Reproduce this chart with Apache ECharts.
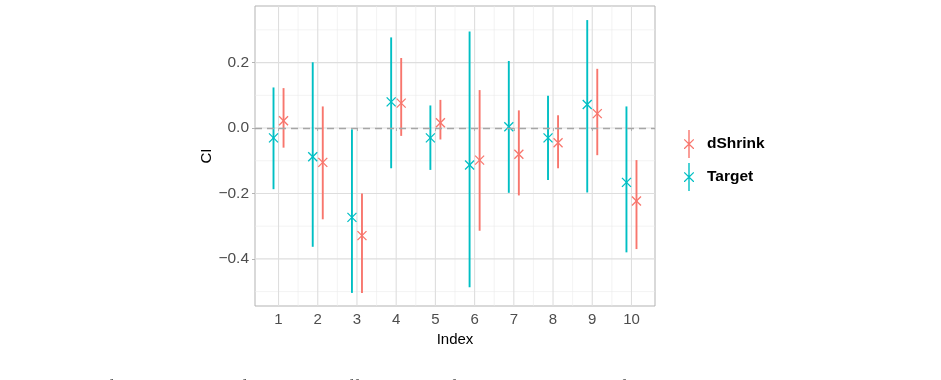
<!DOCTYPE html>
<html>
<head>
<meta charset="utf-8">
<script src="https://cdn.jsdelivr.net/npm/echarts@6/dist/echarts.min.js"></script>
<style>
  html, body { margin: 0; padding: 0; background: #fff; }
  #chart { width: 941px; height: 380px; }
</style>
</head>
<body>
<div id="chart"></div>
<script>
// data
const indices = [1, 2, 3, 4, 5, 6, 7, 8, 9, 10];
const targetEst = [-0.030, -0.088, -0.273, 0.080, -0.030, -0.113, 0.004, -0.030, 0.072, -0.166];
const targetLo  = [-0.187, -0.363, -0.504, -0.123, -0.128, -0.487, -0.198, -0.159, -0.197, -0.380];
const targetHi  = [0.124, 0.201, -0.004, 0.277, 0.069, 0.295, 0.205, 0.099, 0.330, 0.066];
const dshrinkEst = [0.022, -0.105, -0.329, 0.076, 0.016, -0.098, -0.080, -0.045, 0.044, -0.223];
const dshrinkLo  = [-0.060, -0.279, -0.504, -0.024, -0.035, -0.314, -0.206, -0.123, -0.083, -0.370];
const dshrinkHi  = [0.122, 0.066, -0.200, 0.214, 0.086, 0.116, 0.054, 0.039, 0.181, -0.098];
const yMajor = [-0.4, -0.2, 0.0, 0.2];
const yMinor = [-0.5, -0.3, -0.1, 0.1, 0.3];
const xMinor = [1.5, 2.5, 3.5, 4.5, 5.5, 6.5, 7.5, 8.5, 9.5];

const colTarget = '#00BFC4';
const colShrink = '#F8766D';
const dodge = 0.128;

const chart = echarts.init(document.getElementById('chart'));

const fmtY = v => {
  const s = Math.abs(v).toFixed(1);
  return v < -1e-9 ? '\u2212' + s : s;
};

// error bar + cross marker
const ciRender = (offset) => (params, api) => {
  const x = api.value(0) + offset;
  const lo = api.coord([x, api.value(2)]);
  const hi = api.coord([x, api.value(3)]);
  const p = api.coord([x, api.value(1)]);
  const c = api.visual('color');
  const h = 4.5;
  return {
    type: 'group',
    children: [
      { type: 'line', shape: { x1: lo[0], y1: lo[1], x2: hi[0], y2: hi[1] }, style: { stroke: c, lineWidth: 1.9 } },
      { type: 'line', shape: { x1: p[0] - h, y1: p[1] - h, x2: p[0] + h, y2: p[1] + h }, style: { stroke: c, lineWidth: 1.3 } },
      { type: 'line', shape: { x1: p[0] - h, y1: p[1] + h, x2: p[0] + h, y2: p[1] - h }, style: { stroke: c, lineWidth: 1.3 } }
    ]
  };
};

// panel grid lines
const gridRender = (params, api) => {
  const cs = params.coordSys;
  const v = api.value(0);
  const kind = api.value(1);
  const w = kind === 0 || kind === 2 ? 1.1 : 0.6;
  const col = kind === 0 || kind === 2 ? '#DEDEDE' : '#EBEBEB';
  if (kind < 2) {
    const y = api.coord([1, v])[1];
    return { type: 'line', shape: { x1: cs.x, y1: y, x2: cs.x + cs.width, y2: y }, style: { stroke: col, lineWidth: w } };
  }
  const x = api.coord([v, 0])[0];
  return { type: 'line', shape: { x1: x, y1: cs.y, x2: x, y2: cs.y + cs.height }, style: { stroke: col, lineWidth: w } };
};

const gridData = []
  .concat(yMinor.map(v => [v, 1]))
  .concat(xMinor.map(v => [v, 3]))
  .concat(yMajor.map(v => [v, 0]))
  .concat(indices.map(v => [v, 2]));

const crossIcon = 'path://M4.3,0 L5.7,0 L5.7,28 L4.3,28 Z M0,9.3 L0.9,9.3 L10,18.1 L10,18.9 L9.1,18.9 L0,10.1 Z M10,9.3 L10,10.1 L0.9,18.9 L0,18.9 L0,18.1 L9.1,9.3 Z';

const option = {
  animation: false,
  backgroundColor: '#ffffff',
  textStyle: { fontFamily: 'Liberation Sans, Arial, sans-serif' },
  grid: {
    left: 255, right: 286, top: 6, bottom: 74,
    show: true, borderColor: '#B3B3B3', borderWidth: 1, backgroundColor: 'transparent'
  },
  legend: {
    orient: 'vertical',
    left: 679, top: 125,
    itemWidth: 10, itemHeight: 28, itemGap: 5,
    icon: crossIcon,
    data: ['dShrink', 'Target'],
    textStyle: { fontSize: 15.5, fontWeight: 'bold', color: '#000', padding: [0, 0, 0, 8] }
  },
  xAxis: {
    type: 'value', min: 0.4, max: 10.6,
    name: 'Index', nameLocation: 'middle', nameGap: 22,
    nameTextStyle: { fontSize: 15, color: '#000' },
    axisLine: { show: false },
    splitLine: { show: false },
    axisTick: { show: true, length: 3, lineStyle: { color: '#B3B3B3' }, customValues: indices },
    axisLabel: { fontSize: 15, color: '#4D4D4D', margin: 6, customValues: indices }
  },
  yAxis: {
    type: 'value', min: -0.544, max: 0.373,
    name: 'CI', nameLocation: 'middle', nameGap: 40,
    nameTextStyle: { fontSize: 15, color: '#000' },
    axisLine: { show: false },
    splitLine: { show: false },
    axisTick: { show: true, length: 3, lineStyle: { color: '#B3B3B3' }, customValues: yMajor },
    axisLabel: { fontSize: 15.5, color: '#4D4D4D', margin: 6, customValues: yMajor, formatter: fmtY }
  },
  graphic: [{
    type: 'text', left: 7, bottom: -17, silent: true,
    style: {
      text: 'Figure 1: Confidence intervals of the target coefficients and of the dShrink estimates for the ten indices, with the point estimates marked by crosses.',
      font: '18px "Liberation Serif", "DejaVu Serif", serif', fill: '#222'
    }
  }],
  series: [
    {
      type: 'custom', name: 'grid', silent: true, z: 0,
      renderItem: gridRender,
      data: gridData,
      markLine: {
        silent: true, symbol: 'none', label: { show: false },
        lineStyle: { color: '#A6A6A6', type: [7, 5], width: 1.4 },
        data: [{ yAxis: 0 }]
      }
    },
    {
      type: 'custom', name: 'Target', color: colTarget, z: 3,
      renderItem: ciRender(-dodge),
      data: indices.map((d, i) => [d, targetEst[i], targetLo[i], targetHi[i]])
    },
    {
      type: 'custom', name: 'dShrink', color: colShrink, z: 3,
      renderItem: ciRender(dodge),
      data: indices.map((d, i) => [d, dshrinkEst[i], dshrinkLo[i], dshrinkHi[i]])
    }
  ]
};
option && chart.setOption(option);
</script>
</body>
</html>
